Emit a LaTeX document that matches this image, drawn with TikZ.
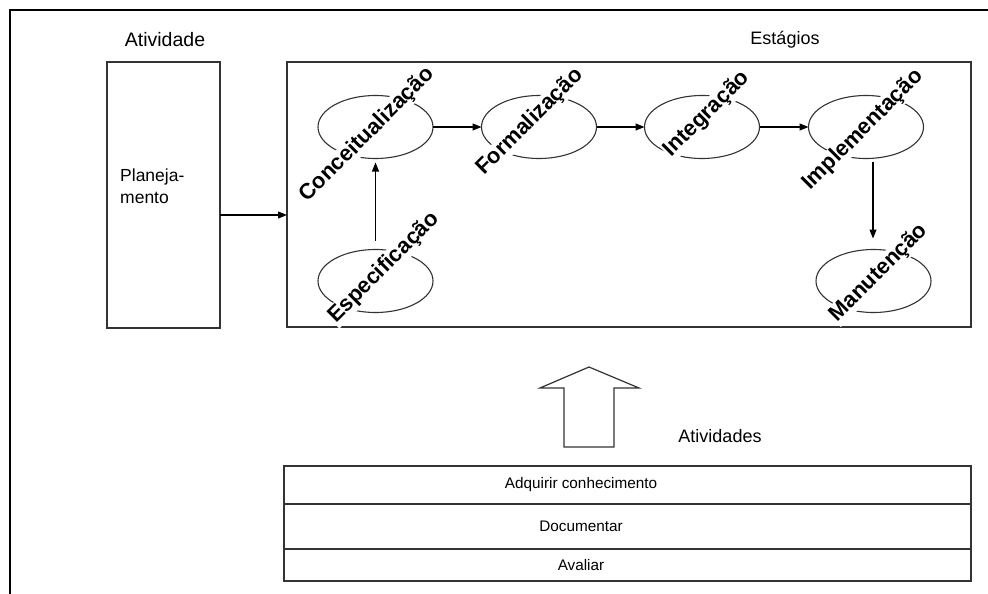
\documentclass[tikz,border=0pt]{standalone}
\usepackage{fontspec}
\setmainfont{Liberation Sans}
\usetikzlibrary{arrows.meta,shapes.geometric}
\definecolor{ln}{HTML}{333333}
\tikzset{
  box/.style={draw=ln, line width=1.2pt, inner sep=0pt, outer sep=0pt},
  stageell/.style={ellipse, draw=ln, line width=1.1pt, minimum width=115pt, minimum height=63pt, inner sep=0pt, outer sep=0pt},
  stagetxt/.style={rotate=45, fill=white, inner sep=1pt, font=\bfseries\fontsize{22}{24}\selectfont},
  lbl/.style={inner sep=0pt, font=\fontsize{18}{21}\selectfont},
  rowtxt/.style={inner sep=0pt, font=\fontsize{15.3}{18}\selectfont},
  arr/.style={draw=black, line width=1.1pt, -{Triangle[length=9pt,width=7pt]}},
}
\begin{document}
\begin{tikzpicture}[x=1pt,y=-1pt]
\useasboundingbox (0,0) rectangle (988,594);
% outer frame
\draw[line width=2.2pt] (10,594) -- (10,10) -- (988,10);
% headings
\node[lbl, font=\fontsize{19.5}{22}\selectfont] (hat) at (165,40) {Atividade};
\node[lbl] (hest) at (785,40) {Estágios};
% planning box
\node[box, minimum width=113pt, minimum height=266pt] (plan) at (163.5,195) {};
\node[inner sep=0pt, anchor=north west, align=left, font=\fontsize{17.5}{21.5}\selectfont] (plantxt) at (120,169) {Planeja-\\mento};
% stages box
\node[box, minimum width=684pt, minimum height=265pt] (stages) at (629,194.5) {};
\draw[arr] ([yshift=-20pt]plan.east) -- ([yshift=-20pt]plan.east -| stages.west);
% ellipses
\node[stageell] (ec) at (375.5,127) {};
\node[stageell] (ef) at (539,127) {};
\node[stageell] (ei) at (702,127) {};
\node[stageell] (em) at (866,127) {};
\node[stageell] (es) at (375.5,281) {};
\node[stageell] (ma) at (873.5,281) {};
% arrows between stages
\draw[arr] (ec.east) -- (ef.west);
\draw[arr] (ef.east) -- (ei.west);
\draw[arr] (ei.east) -- (em.west);
\draw[arr, shorten <=9pt, shorten >=4pt] (es.north) -- (ec.south);
\draw[arr, shorten <=3pt, shorten >=11pt] ([xshift=7pt]em.south) -- ([xshift=7pt]em.south |- ma.north);
% stage labels
\node[stagetxt] (tc) at (367,135) {Conceitualização};
\node[stagetxt] (tf) at (530,122) {Formalização};
\node[stagetxt] (ti) at (707,114) {Integração};
\node[stagetxt] (tm) at (863,130) {Implementação};
\node[stagetxt] (ts) at (384,268) {Especificação};
\node[stagetxt] (ta) at (879,273) {Manutenção};
% big hollow arrow
\draw[draw=ln, line width=1.2pt, line join=miter] (589,367) -- (639,388) -- (614,388) -- (614,447) -- (564,447) -- (564,388) -- (540,388) -- cycle;
\node[lbl] (hacts) at (720,436) {Atividades};
% activities table
\draw[box] (284,466) rectangle (971,581);
\draw[box] (284,504) -- (971,504);
\draw[box] (284,549) -- (971,549);
\node[rowtxt] (r1) at (581,485) {Adquirir conhecimento};
\node[rowtxt] (r2) at (581,526) {Documentar};
\node[rowtxt] (r3) at (581,565) {Avaliar};
\end{tikzpicture}
\end{document}
